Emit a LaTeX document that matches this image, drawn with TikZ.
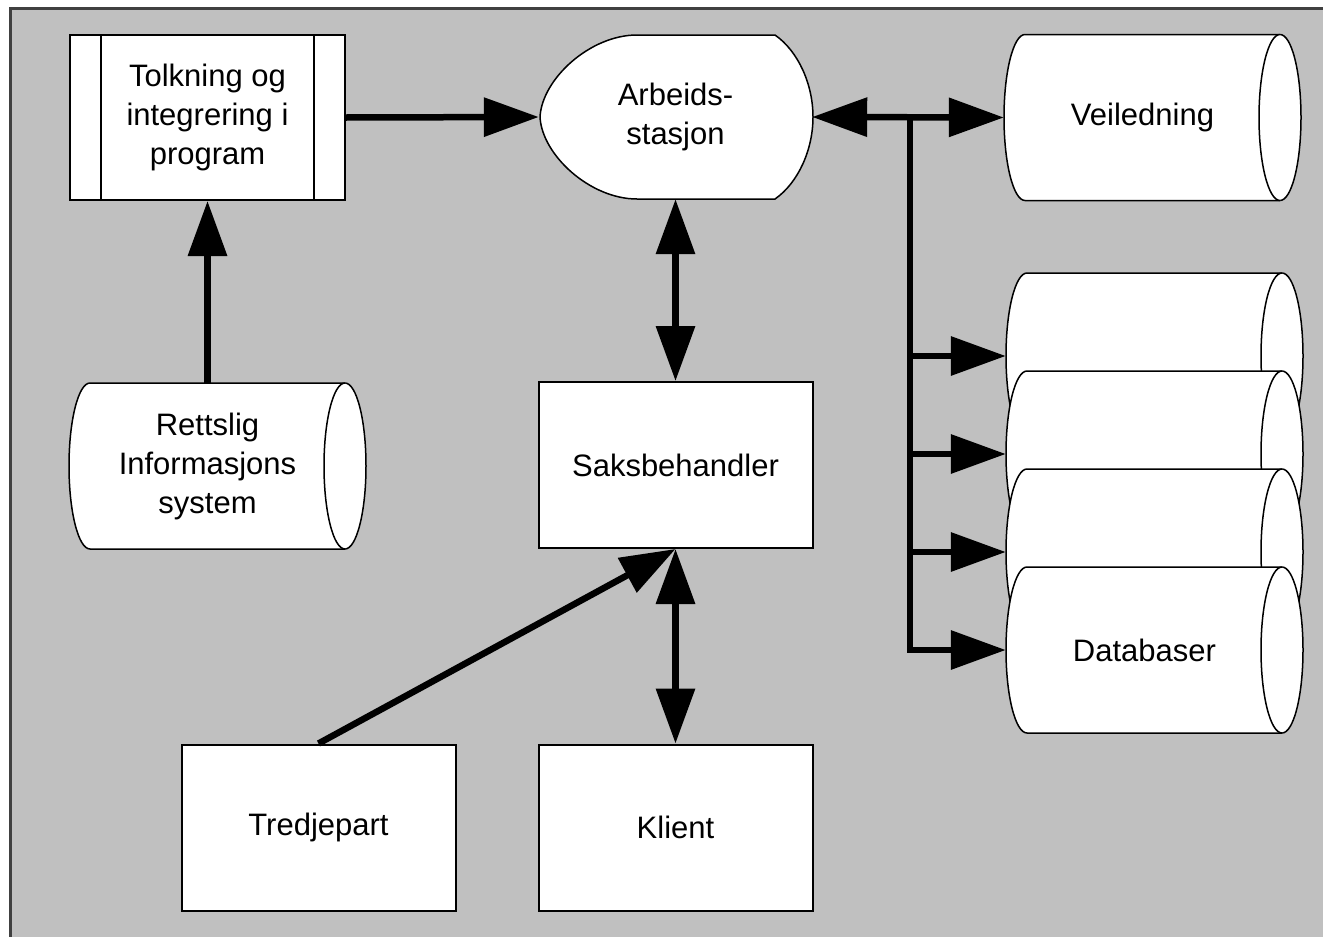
\documentclass[tikz,border=0pt]{standalone}
\usepackage{fontspec}
\setmainfont{Liberation Sans}
\usetikzlibrary{arrows.meta, calc, positioning}
\definecolor{bg}{HTML}{c0c0c0}
\definecolor{rim}{HTML}{404040}

% horizontal drum: name, centre, text
\newcommand{\drum}[3]{%
	\filldraw[drumline] ($(#2)+(-127.5,-83)$) -- ($(#2)+(127.5,-83)$)
		arc[start angle=-90, end angle=90, x radius=21, y radius=83]
		-- ($(#2)+(-127.5,83)$)
		arc[start angle=90, end angle=270, x radius=21, y radius=83] -- cycle;
	\draw[drumline] ($(#2)+(127.5,-83)$) arc[start angle=270, end angle=90, x radius=21, y radius=83];
	\node[store] (#1) at (#2) {};
	\node[inner sep=0, align=center] (#1-txt) at ($(#2)+(-10,0)$) {#3};
}

\begin{document}
\begin{tikzpicture}[x=1pt, y=-1pt,
	font=\fontsize{31}{39}\selectfont,
	box/.style={draw=black, line width=2, fill=white, minimum width=274, minimum height=166, inner sep=0, align=center},
	drumline/.style={draw=black, line width=1.5, fill=white},
	store/.style={inner sep=0, minimum width=297, minimum height=166},
	flow/.style={line width=6.5, -{Triangle[length=55, width=38]}},
	both/.style={line width=6.5, {Triangle[length=55, width=38]}-{Triangle[length=55, width=38]}}]
	\useasboundingbox (0,0) rectangle (1323,937);
	\fill[white] (0,0) rectangle (1323,937);
	\filldraw[fill=bg, draw=rim, line width=3] (10,8) rectangle (1345,960);
	
	% process box
	\node[box, minimum width=275, minimum height=165] (tolk) at (207.5,117.5) {Tolkning og\\integrering i\\program};
	\draw[line width=2] ($(tolk.north west)+(32,0)$) -- ($(tolk.south west)+(32,0)$);
	\draw[line width=2] ($(tolk.north east)+(-32,0)$) -- ($(tolk.south east)+(-32,0)$);
	
	\drum{rett}{217.5,466}{Rettslig\\Informasjons\\system}
	
	% display shape
	\filldraw[fill=white, draw=black, line width=1.5]
		(637,35) -- (775,35) .. controls (798,51) and (813,84) .. (813,117)
		.. controls (813,150) and (798,183) .. (775,199) -- (637,199)
		.. controls (590,199) and (542,155) .. (540,117)
		.. controls (542,79) and (590,35) .. (637,35) -- cycle;
	\node[inner sep=0, minimum width=273, minimum height=164, align=center] (arb) at (675.5,117) {Arbeids-\\stasjon};
	
	\drum{veil}{1152.5,117.5}{Veiledning}
	\foreach \i/\y/\t in {1/356/{}, 2/454/{}, 3/552/{}, 4/650/Databaser}{
		\drum{db\i}{1154.5,\y}{\t}
	}
	
	\node[box] (saks) at (675.5,465) {Saksbehandler};
	\node[box] (tred) at (318.5,827.5) {Tredjepart};
	\node[box] (klient) at (675.5,827.5) {Klient};
	
	% connectors
	\coordinate (bus) at (910,117);
	\draw[flow] (tolk.east) -- (arb.west);
	\draw[flow] (rett.north -| tolk.south) -- (tolk.south);
	\draw[both] (arb.south) -- (saks.north);
	\draw[both] (saks.south) -- (klient.north);
	\draw[flow] (tred.north) -- (saks.south);
	\draw[both] (arb.east) -- (veil.west);
	\draw[flow] (bus) |- (db4.west);
	\foreach \i in {1,2,3}
		\draw[flow] (bus |- db\i.west) -- (db\i.west);
\end{tikzpicture}
\end{document}
